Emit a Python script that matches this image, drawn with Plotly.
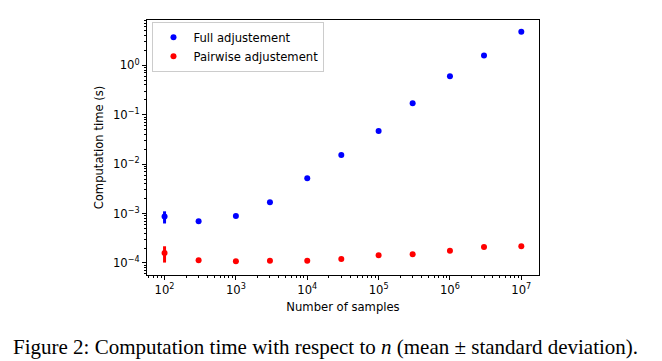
import plotly.graph_objects as go

n_samples = [1e2, 3e2, 1e3, 3e3, 1e4, 3e4, 1e5, 3e5, 1e6, 3e6, 1e7]
full_mean = [0.00087, 0.00070, 0.00089, 0.0017, 0.0052, 0.0153, 0.047, 0.17, 0.60, 1.58, 4.8]
full_std = [0.00024, 0.00005, 0.00002, 0.00004, 0.0001, 0.0003, 0.001, 0.003, 0.01, 0.03, 0.1]
pair_mean = [0.000160, 0.000113, 0.000109, 0.000111, 0.000111, 0.000120, 0.000143, 0.000151, 0.000177, 0.000210, 0.000217]
pair_std = [0.000058, 0.000003, 0.000002, 0.000002, 0.000002, 0.000002, 0.000003, 0.000003, 0.000003, 0.000004, 0.000004]

x_tickvals = [1e2, 1e3, 1e4, 1e5, 1e6, 1e7]
x_ticktext = ["10<sup>2</sup>", "10<sup>3</sup>", "10<sup>4</sup>", "10<sup>5</sup>", "10<sup>6</sup>", "10<sup>7</sup>"]
y_tickvals = [1e-4, 1e-3, 1e-2, 1e-1, 1e0]
y_ticktext = ["10<sup>−4</sup>", "10<sup>−3</sup>", "10<sup>−2</sup>", "10<sup>−1</sup>", "10<sup>0</sup>"]

FONT = "DejaVu Sans"
FS = 11.6

fig = go.Figure()
fig.add_trace(go.Scatter(
    x=n_samples, y=full_mean, mode="markers", name="Full adjustement",
    marker=dict(color="#0000ff", size=6),
    error_y=dict(type="data", array=full_std, color="#0000ff", thickness=3, width=0),
))
fig.add_trace(go.Scatter(
    x=n_samples, y=pair_mean, mode="markers", name="Pairwise adjustement",
    marker=dict(color="#ff0000", size=6),
    error_y=dict(type="data", array=pair_std, color="#ff0000", thickness=3, width=0),
))

axis_common = dict(
    type="log", showgrid=False, zeroline=False, showline=True, linecolor="black",
    linewidth=1, mirror=True, ticks="outside", ticklen=4, tickwidth=1, tickcolor="black",
    tickfont=dict(family=FONT, size=FS, color="black"),
    minor=dict(ticks="outside", ticklen=2, tickwidth=0.8, tickcolor="black", dtick="D1", showgrid=False),
)

fig.update_xaxes(
    **axis_common, range=[1.754, 7.248], tickvals=x_tickvals, ticktext=x_ticktext,
    title=dict(text="Number of samples", font=dict(family=FONT, size=FS, color="black"), standoff=6),
)
fig.update_yaxes(
    **axis_common, range=[-4.243, 0.917], tickvals=y_tickvals, ticktext=y_ticktext,
    title=dict(text="Computation time (s)", font=dict(family=FONT, size=FS, color="black"), standoff=6),
)

fig.add_annotation(
    text="Figure 2: Computation time with respect to <i>n</i> (mean ± standard deviation).",
    xref="paper", yref="paper", x=0.455, y=-0.282, xanchor="center", yanchor="middle",
    showarrow=False, font=dict(family="Liberation Serif", size=21, color="black"),
)

fig.update_layout(
    width=654, height=353,
    margin=dict(l=139, r=123, t=12, b=86),
    plot_bgcolor="white", paper_bgcolor="white",
    showlegend=True,
    legend=dict(
        x=0.014, y=0.993, xanchor="left", yanchor="top",
        bordercolor="#cccccc", borderwidth=1, bgcolor="white",
        font=dict(family=FONT, size=FS, color="black"),
        tracegroupgap=0, itemwidth=30,
    ),
)

fig.write_html("out.html")
